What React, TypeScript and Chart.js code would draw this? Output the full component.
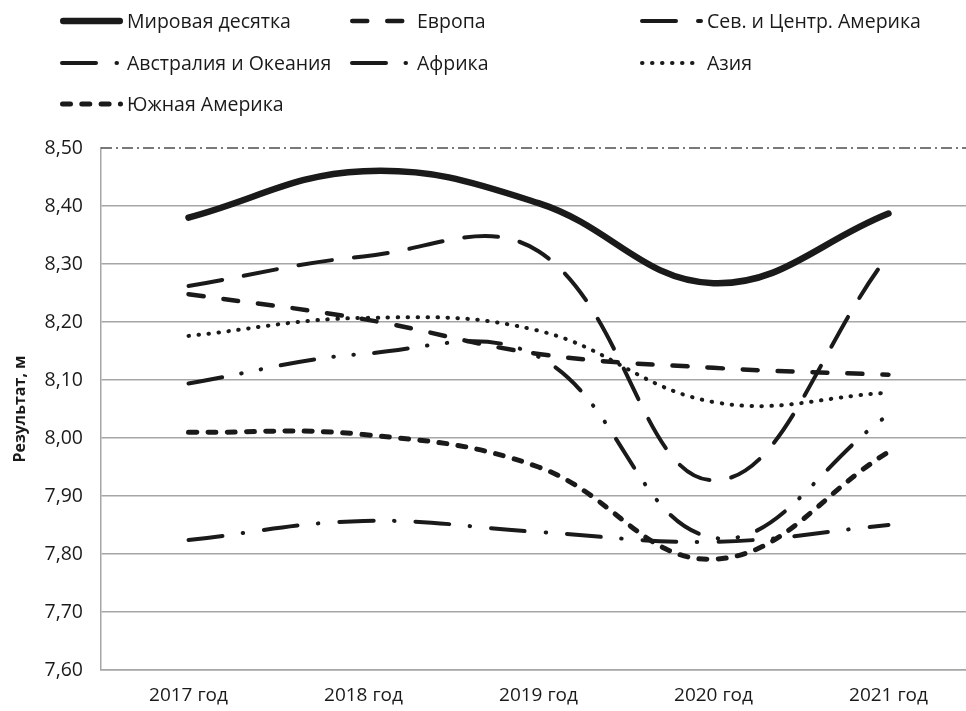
import React, { useEffect, useRef } from 'react';
import { Chart, registerables } from 'chart.js';

Chart.register(...registerables);

// ---- data ----
const categories = ['2017 год', '2018 год', '2019 год', '2020 год', '2021 год'];
const yTickValues = [7.6, 7.7, 7.8, 7.9, 8.0, 8.1, 8.2, 8.3, 8.4, 8.5];
const yTickLabels = ['7,60', '7,70', '7,80', '7,90', '8,00', '8,10', '8,20', '8,30', '8,40', '8,50'];
const yTitle = 'Результат, м';

const seriesNames = [
  'Мировая десятка',
  'Европа',
  'Сев. и Центр. Америка',
  'Австралия и Океания',
  'Африка',
  'Азия',
  'Южная Америка',
];

const worldTop10 = [8.38, 8.46, 8.405, 8.267, 8.387];
const europe = [8.248, 8.205, 8.145, 8.121, 8.109];
const northCentralAmerica = [8.262, 8.313, 8.322, 7.927, 8.315];
const australiaOceania = [7.824, 7.857, 7.838, 7.821, 7.85];
const africa = [8.094, 8.145, 8.14, 7.828, 8.04];
const asia = [8.176, 8.207, 8.185, 8.062, 8.078];
const southAmerica = [8.01, 8.006, 7.95, 7.791, 7.976];

const seriesValues = [worldTop10, europe, northCentralAmerica, australiaOceania, africa, asia, southAmerica];

// ---- styles ----
const FONT = '"Open Sans", sans-serif';
const INK = '#1a1a1a';
const GRID = '#a6a6a6';

const lineStyles = [
  { width: 6.5, dash: [] as number[] },
  { width: 4.5, dash: [15, 20] },
  { width: 4, dash: [34, 22] },
  { width: 4, dash: [34, 20.5, 0.5, 21] },
  { width: 4, dash: [34, 19.5, 0.5, 19.5, 0.5, 20] },
  { width: 4, dash: [0.5, 9.5] },
  { width: 5, dash: [8, 11.3] },
];

const legendCols = [60, 350, 640];
const legendRows = [21, 63, 104];

const legendPlugin = {
  id: 'customLegend',
  afterDraw(chart: any) {
    const ctx = chart.ctx as CanvasRenderingContext2D;
    ctx.save();
    // dash-dot top border of plot area
    const { left, right, top } = chart.chartArea;
    ctx.beginPath();
    ctx.setLineDash([11, 4, 2, 4]);
    ctx.lineCap = 'butt';
    ctx.lineWidth = 1.5;
    ctx.strokeStyle = '#4d4d4d';
    ctx.moveTo(left, top);
    ctx.lineTo(right, top);
    ctx.stroke();

    chart.data.datasets.forEach((ds: any, i: number) => {
      const x0 = legendCols[i % 3];
      const y = legendRows[Math.floor(i / 3)];
      const w = ds.borderWidth;
      ctx.beginPath();
      ctx.setLineDash(ds.borderDash || []);
      ctx.lineDashOffset = 0;
      ctx.lineWidth = w;
      ctx.lineCap = 'round';
      ctx.strokeStyle = ds.borderColor;
      ctx.moveTo(x0 + w / 2, y);
      ctx.lineTo(x0 + 63 - w / 2, y);
      ctx.stroke();
      ctx.setLineDash([]);
      ctx.fillStyle = INK;
      ctx.font = `19.5px ${FONT}`;
      ctx.textBaseline = 'middle';
      ctx.textAlign = 'left';
      ctx.fillText(ds.label, x0 + 67, y + 1);
    });
    ctx.restore();
  },
};

export default function App() {
  const canvasRef = useRef<HTMLCanvasElement | null>(null);

  useEffect(() => {
    if (!canvasRef.current) return;
    const datasets = seriesNames.map((name, i) => ({
      label: name,
      data: seriesValues[i].map((v, j) => ({ x: j, y: v })),
      borderColor: INK,
      backgroundColor: INK,
      borderWidth: lineStyles[i].width,
      borderDash: lineStyles[i].dash,
      borderCapStyle: 'round' as const,
      borderJoinStyle: 'round' as const,
      pointRadius: 0,
      pointHoverRadius: 0,
      tension: 0.4,
      fill: false,
    }));

    const chart = new Chart(canvasRef.current, {
      type: 'line',
      data: { datasets },
      options: {
        animation: false,
        responsive: true,
        maintainAspectRatio: false,
        layout: { padding: { top: 148, left: 0, right: 0, bottom: 0 } },
        plugins: {
          legend: { display: false },
          tooltip: { enabled: false },
        },
        scales: {
          x: {
            type: 'linear',
            min: -0.5,
            max: 4.443,
            afterBuildTicks: (scale: any) => {
              scale.ticks = categories.map((_, i) => ({ value: i }));
            },
            afterFit: (scale: any) => {
              scale.height = 41;
            },
            grid: { display: false, drawTicks: false },
            border: { display: true, color: GRID, width: 1.5 },
            ticks: {
              color: INK,
              font: { family: FONT, size: 19 },
              padding: 14,
              maxRotation: 0,
              autoSkip: false,
              callback: (v: any) => categories[Math.round(Number(v))] ?? '',
            },
          },
          y: {
            type: 'linear',
            min: 7.6,
            max: 8.5,
            afterBuildTicks: (scale: any) => {
              scale.ticks = yTickValues.map((v) => ({ value: v }));
            },
            afterFit: (scale: any) => {
              scale.width = 101;
            },
            grid: {
              drawTicks: false,
              color: (c: any) => (c.tick && c.tick.value > 8.49 ? 'rgba(0,0,0,0)' : GRID),
              lineWidth: 1.5,
            },
            border: { display: true, color: GRID, width: 1.5 },
            ticks: {
              color: INK,
              font: { family: FONT, size: 19.5 },
              padding: 18,
              autoSkip: false,
              callback: (v: any) => {
                const idx = yTickValues.findIndex((t) => Math.abs(t - Number(v)) < 1e-6);
                return idx >= 0 ? yTickLabels[idx] : '';
              },
            },
            title: {
              display: true,
              text: yTitle,
              color: INK,
              font: { family: FONT, size: 16, weight: 'bold' },
              padding: { top: 11, bottom: 0 },
            },
          },
        },
      },
      plugins: [legendPlugin],
    });
    return () => chart.destroy();
  }, []);

  return (
    <div style={{ position: 'absolute', left: 0, top: 0, width: 966, height: 711, background: '#fff' }}>
      <canvas ref={canvasRef} />
    </div>
  );
}
